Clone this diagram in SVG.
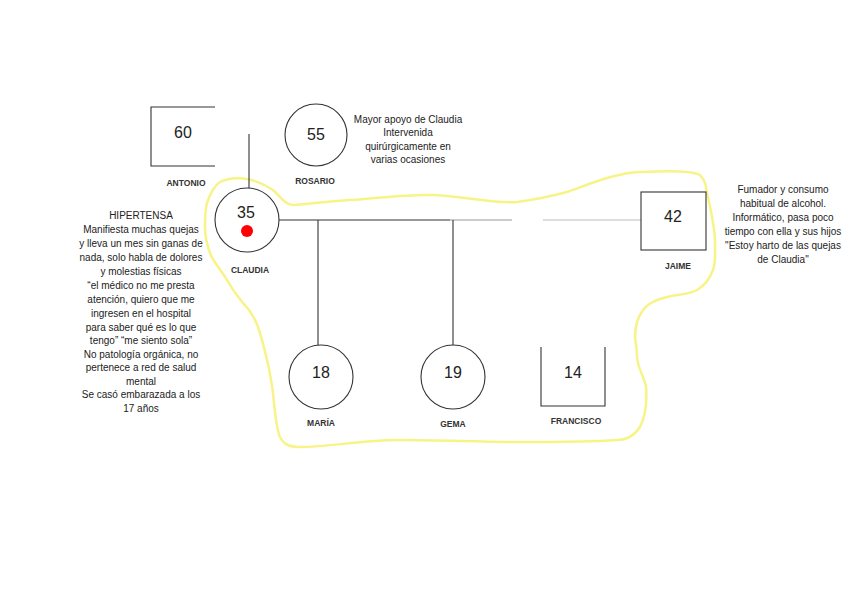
<svg xmlns="http://www.w3.org/2000/svg" width="848" height="599" viewBox="0 0 848 599">
<style>
.sh{fill:none;stroke:#333;stroke-width:1.1}
.num{font-family:"Liberation Sans",Arial,sans-serif;font-size:16px;fill:#222;text-anchor:middle}
.lbl{font-family:"Liberation Sans",Arial,sans-serif;font-size:8.5px;font-weight:bold;fill:#333;text-anchor:middle}
.note{font-family:"Liberation Sans",Arial,sans-serif;font-size:10px;fill:#222;text-anchor:middle}
.ln{stroke:#333;stroke-width:1.1;fill:none}
</style>
<rect width="848" height="599" fill="#fff"/>
<path d="M220,182 C232,176 252,176 273,190 C282,198 284,204 293,205 C310,204 330,201 350,200 C380,198 410,194 433,195 C470,197 495,204 517,202 C540,199 552,196 567,192 C590,184 615,173 640,172 C665,171 690,170 700,175 C706,182 706,186 707,193 C711,210 715,228 715,243 C715,255 716,262 713,270 C709,281 704,286 697,290 C688,295 678,294 667,297 C656,300 648,303 643,310 C637,318 635,326 635,337 C636,345 637,350 637,357 C638,370 645,378 646,387 C647,400 646,415 640,427 C634,436 625,440 617,440 C590,442 550,442 517,442 C480,442 440,440 400,440 C360,440 330,447 300,447 C290,447 284,445 280,437 C276,428 275,412 273,393 C271,378 269,368 267,360 C264,348 262,338 258,327 C254,316 249,309 243,303 C237,296 232,289 227,280 C220,268 213,262 210,253 C206,242 205,236 205,227 C205,218 205,211 207,203 C210,194 214,186 220,182 Z" fill="none" stroke="#f8f387" stroke-width="2.5" stroke-linejoin="round"/>
<g id="connectors">
<line class="ln" x1="249" y1="134" x2="249" y2="188"/>
<line class="ln" x1="279" y1="220" x2="450" y2="220"/>
<line x1="450" y1="220" x2="512" y2="220" stroke="#999" stroke-width="1.1"/>
<line x1="543" y1="220" x2="641" y2="220" stroke="#bbb" stroke-width="1.1"/>
<line class="ln" x1="318" y1="220" x2="318" y2="345"/>
<line class="ln" x1="453" y1="220" x2="453" y2="345"/>
</g>
<g id="antonio">
<path class="sh" d="M215,107 H151 V166 H215"/>
<text class="num" x="183" y="138">60</text>
<text class="lbl" x="186" y="186">ANTONIO</text>
</g>
<g id="rosario">
<circle class="sh" cx="316" cy="135" r="31"/>
<text class="num" x="316" y="140">55</text>
<text class="lbl" x="315" y="184" font-weight="normal">ROSARIO</text>
</g>
<g id="rosario-note">
<text class="note" x="408" y="123">Mayor apoyo de Claudia</text>
<text class="note" x="408" y="136">Intervenida</text>
<text class="note" x="408" y="150">quirúrgicamente en</text>
<text class="note" x="408" y="163">varias ocasiones</text>
</g>
<g id="claudia">
<circle class="sh" cx="247" cy="220" r="32"/>
<text class="num" x="246" y="218">35</text>
<circle cx="247" cy="231" r="6" fill="#f00"/>
<text class="lbl" x="250" y="273" font-weight="normal">CLAUDIA</text>
</g>
<g id="claudia-note">
<text class="note" x="141" y="219">HIPERTENSA</text>
<text class="note" x="141" y="233">Manifiesta muchas quejas</text>
<text class="note" x="141" y="247">y lleva un mes sin ganas de</text>
<text class="note" x="141" y="261">nada, solo habla de dolores</text>
<text class="note" x="141" y="275">y molestias físicas</text>
<text class="note" x="141" y="289">“el médico no me presta</text>
<text class="note" x="141" y="303">atención, quiero que me</text>
<text class="note" x="141" y="317">ingresen en el hospital</text>
<text class="note" x="141" y="331">para saber qué es lo que</text>
<text class="note" x="141" y="344">tengo” “me siento sola”</text>
<text class="note" x="141" y="358">No patología orgánica, no</text>
<text class="note" x="141" y="371">pertenece a red de salud</text>
<text class="note" x="141" y="385">mental</text>
<text class="note" x="141" y="398">Se casó embarazada a los</text>
<text class="note" x="141" y="412">17 años</text>
</g>
<g id="jaime">
<rect class="sh" x="641" y="192" width="65" height="58"/>
<text class="num" x="673" y="222">42</text>
<text class="lbl" x="678" y="269" font-weight="normal">JAIME</text>
</g>
<g id="jaime-note">
<text class="note" x="783" y="193">Fumador y consumo</text>
<text class="note" x="783" y="207">habitual de alcohol.</text>
<text class="note" x="783" y="221">Informático, pasa poco</text>
<text class="note" x="783" y="235">tiempo con ella y sus hijos</text>
<text class="note" x="783" y="249">"Estoy harto de las quejas</text>
<text class="note" x="783" y="263">de Claudia"</text>
</g>
<g id="maria">
<circle class="sh" cx="321" cy="377" r="32"/>
<text class="num" x="321" y="378">18</text>
<text class="lbl" x="321" y="426">MARÍA</text>
</g>
<g id="gema">
<circle class="sh" cx="453" cy="377" r="32"/>
<text class="num" x="453" y="378">19</text>
<text class="lbl" x="453" y="427">GEMA</text>
</g>
<g id="francisco">
<path class="sh" d="M541,347 V406 H605 V347"/>
<text class="num" x="573" y="378">14</text>
<text class="lbl" x="576" y="424" font-weight="normal">FRANCISCO</text>
</g>
</svg>
